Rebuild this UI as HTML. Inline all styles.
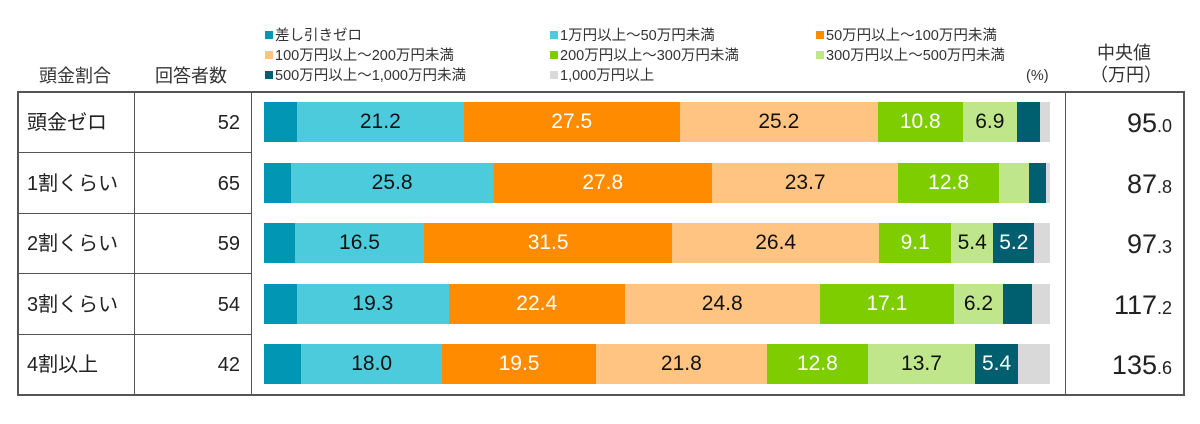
<!DOCTYPE html><html><head><meta charset="utf-8"><style>
body{margin:0;width:1200px;height:424px;background:#fff;font-family:"Liberation Sans","Noto Sans CJK JP",sans-serif;color:#222;position:relative;overflow:hidden}
.a{position:absolute;white-space:nowrap}
.lg{font-size:14.5px;color:#333;line-height:18px}
.sq{display:inline-block;width:8px;height:8px;margin-right:2px;vertical-align:1px}
.hd{font-size:18px;color:#333;line-height:22px}
.ln{position:absolute;background:#555}
.cell{font-size:20px;color:#222;height:60px;line-height:60px}
.seg{position:absolute;height:40px;display:flex;align-items:center;justify-content:center;font-size:21px}
.med{font-size:27px;color:#222;height:60px;line-height:60px}
.med small{font-size:18px}
</style></head><body>
<div class="a lg" style="left:265px;top:27px"><span class="sq" style="background:#0096b4"></span>差し引きゼロ</div>
<div class="a lg" style="left:550px;top:27px"><span class="sq" style="background:#4bcbdc"></span>1万円以上～50万円未満</div>
<div class="a lg" style="left:816px;top:27px"><span class="sq" style="background:#ff8c00"></span>50万円以上～100万円未満</div>
<div class="a lg" style="left:265px;top:47px"><span class="sq" style="background:#ffc382"></span>100万円以上～200万円未満</div>
<div class="a lg" style="left:550px;top:47px"><span class="sq" style="background:#7dcd00"></span>200万円以上～300万円未満</div>
<div class="a lg" style="left:816px;top:47px"><span class="sq" style="background:#bfe68a"></span>300万円以上～500万円未満</div>
<div class="a lg" style="left:265px;top:67px"><span class="sq" style="background:#005f6e"></span>500万円以上～1,000万円未満</div>
<div class="a lg" style="left:550px;top:67px"><span class="sq" style="background:#d9d9d9"></span>1,000万円以上</div>
<div class="a lg" style="left:1026px;top:67px">(%)</div>
<div class="a hd" style="left:39px;top:65px">頭金割合</div>
<div class="a hd" style="left:155px;top:65px">回答者数</div>
<div class="a hd" style="left:1097px;top:42px">中央値</div>
<div class="a hd" style="left:1090px;top:64px">（万円）</div>
<div class="ln" style="left:18px;top:91px;width:1166px;height:2px"></div>
<div class="ln" style="left:18px;top:394px;width:1166px;height:2px"></div>
<div class="ln" style="left:17px;top:91px;width:2px;height:305px"></div>
<div class="ln" style="left:134px;top:91px;width:1px;height:305px"></div>
<div class="ln" style="left:251px;top:91px;width:1px;height:305px"></div>
<div class="ln" style="left:1065px;top:91px;width:1px;height:305px"></div>
<div class="ln" style="left:1183px;top:91px;width:2px;height:305px"></div>
<div class="ln" style="left:18px;top:152px;width:234px;height:1px"></div>
<div class="ln" style="left:18px;top:213px;width:234px;height:1px"></div>
<div class="ln" style="left:18px;top:273px;width:234px;height:1px"></div>
<div class="ln" style="left:18px;top:334px;width:234px;height:1px"></div>
<div id="rows"></div>
<script>
var C=["#0096b4","#4bcbdc","#ff8c00","#ffc382","#7dcd00","#bfe68a","#005f6e","#d9d9d9"];
var T=["#fff","#111","#fff","#111","#fff","#111","#fff","#111"];
var R=[["頭金ゼロ",52,[4.2,21.2,27.5,25.2,10.8,6.9,2.9,1.3],[0,1,1,1,1,1,0,0],"95",".0"],
["1割くらい",65,[3.4,25.8,27.8,23.7,12.8,3.8,2.2,0.5],[0,1,1,1,1,0,0,0],"87",".8"],
["2割くらい",59,[3.9,16.5,31.5,26.4,9.1,5.4,5.2,2.0],[0,1,1,1,1,1,1,0],"97",".3"],
["3割くらい",54,[4.2,19.3,22.4,24.8,17.1,6.2,3.7,2.3],[0,1,1,1,1,1,0,0],"117",".2"],
["4割以上",42,[4.7,18.0,19.5,21.8,12.8,13.7,5.4,4.1],[0,1,1,1,1,1,1,0],"135",".6"]];
var h="";
R.forEach(function(r,i){var y=92+i*60.5;
h+='<div class="a cell" style="left:27px;top:'+(y+1)+'px">'+r[0]+'</div>';
h+='<div class="a cell" style="left:180px;width:60px;text-align:right;top:'+(y+1)+'px">'+r[1]+'</div>';
h+='<div class="a med" style="left:1066px;width:106px;text-align:right;top:'+(y+1)+'px">'+r[4]+'<small>'+r[5]+'</small></div>';
var x=264;r[2].forEach(function(v,j){var w=v*7.86;
h+='<div class="seg" style="left:'+x+'px;top:'+(y+10)+'px;width:'+w+'px;background:'+C[j]+';color:'+T[j]+'">'+(r[3][j]?v.toFixed(1):'')+'</div>';x+=w;});
});
document.getElementById("rows").innerHTML=h;
</script>
</body></html>
